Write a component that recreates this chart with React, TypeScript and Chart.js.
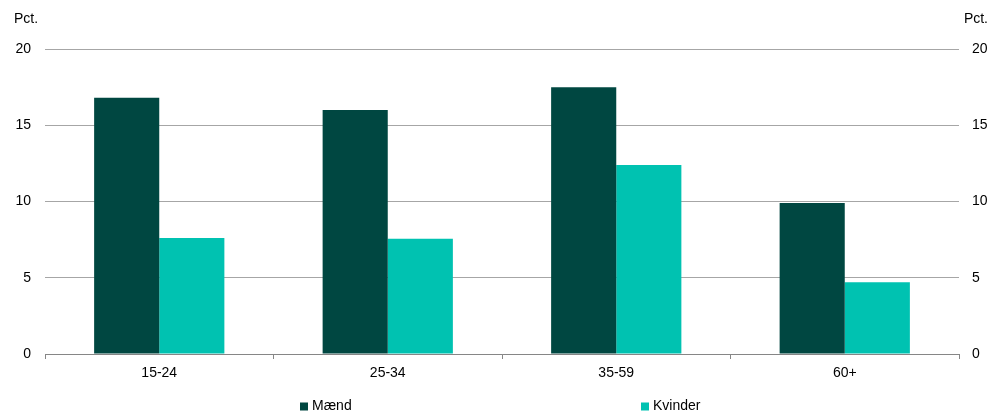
import React, { useEffect, useRef } from "react";
import { Chart, registerables } from "chart.js";

Chart.register(...registerables);

const categories = ["15-24", "25-34", "35-59", "60+"];
const maendValues = [16.8, 16.0, 17.5, 9.9];
const kvinderValues = [7.6, 7.55, 12.4, 4.7];
const seriesNames = ["Mænd", "Kvinder"];
const yTicks = [0, 5, 10, 15, 20];
const unitLabel = "Pct.";

const DARK = "#004741";
const LIGHT = "#00C2B1";
const FONT = "'Liberation Sans', Arial, sans-serif";

const overlayPlugin = {
  id: "overlay",
  afterDraw(chart: any) {
    const ctx = chart.ctx;
    ctx.save();
    ctx.fillStyle = "#000";
    ctx.font = `14px ${FONT}`;
    ctx.textBaseline = "middle";
    // unit labels
    ctx.textAlign = "left";
    ctx.fillText(unitLabel, 14, 19);
    ctx.textAlign = "right";
    ctx.fillText(unitLabel, 988, 19);
    // legend
    const legendX = [300, 641];
    const y = 406.5;
    chart.data.datasets.forEach((ds: any, i: number) => {
      ctx.fillStyle = ds.backgroundColor;
      ctx.fillRect(legendX[i], y - 4, 8, 8);
      ctx.fillStyle = "#000";
      ctx.textAlign = "left";
      ctx.fillText(ds.label, legendX[i] + 12, y);
    });
    ctx.restore();
  },
};

export default function App() {
  const ref = useRef<HTMLCanvasElement>(null);
  useEffect(() => {
    if (!ref.current) return;
    const chart = new Chart(ref.current, {
      type: "bar",
      data: {
        labels: categories,
        datasets: [
          {
            label: seriesNames[0],
            data: maendValues,
            backgroundColor: DARK,
            borderWidth: 0,
            barPercentage: 1,
            categoryPercentage: 0.57,
          },
          {
            label: seriesNames[1],
            data: kvinderValues,
            backgroundColor: LIGHT,
            borderWidth: 0,
            barPercentage: 1,
            categoryPercentage: 0.57,
          },
        ],
      },
      options: {
        responsive: false,
        animation: false,
        layout: { padding: { top: 49, bottom: 0, left: 0, right: 0 } },
        plugins: {
          legend: { display: false },
          tooltip: { enabled: false },
          title: { display: false },
        },
        scales: {
          x: {
            afterFit: (s: any) => {
              s.height = 59;
            },
            grid: {
              offset: true,
              drawOnChartArea: false,
              drawTicks: true,
              tickLength: 5,
              color: "#868686",
            },
            border: { color: "#868686", width: 1 },
            ticks: {
              color: "#000",
              font: { family: FONT, size: 14 },
              padding: 6,
              maxRotation: 0,
            },
          },
          y: {
            position: "left",
            min: 0,
            max: 20,
            afterFit: (s: any) => {
              s.width = 45;
            },
            afterBuildTicks: (s: any) => {
              s.ticks = yTicks.map((v) => ({ value: v }));
            },
            grid: { color: "#A6A6A6", drawTicks: false, lineWidth: 1 },
            border: { display: false },
            ticks: {
              color: "#000",
              font: { family: FONT, size: 14 },
              padding: 14,
            },
          },
          y2: {
            position: "right",
            min: 0,
            max: 20,
            afterFit: (s: any) => {
              s.width = 32;
            },
            afterBuildTicks: (s: any) => {
              s.ticks = yTicks.map((v) => ({ value: v }));
            },
            grid: { display: false, drawTicks: false },
            border: { display: false },
            ticks: {
              color: "#000",
              font: { family: FONT, size: 14 },
              padding: 13,
            },
          },
        },
      },
      plugins: [overlayPlugin],
    } as any);
    return () => chart.destroy();
  }, []);
  return (
    <div style={{ position: "fixed", left: 0, top: 0, width: 991, height: 413, background: "#fff" }}>
      <canvas ref={ref} width={991} height={413} style={{ display: "block" }} />
    </div>
  );
}
